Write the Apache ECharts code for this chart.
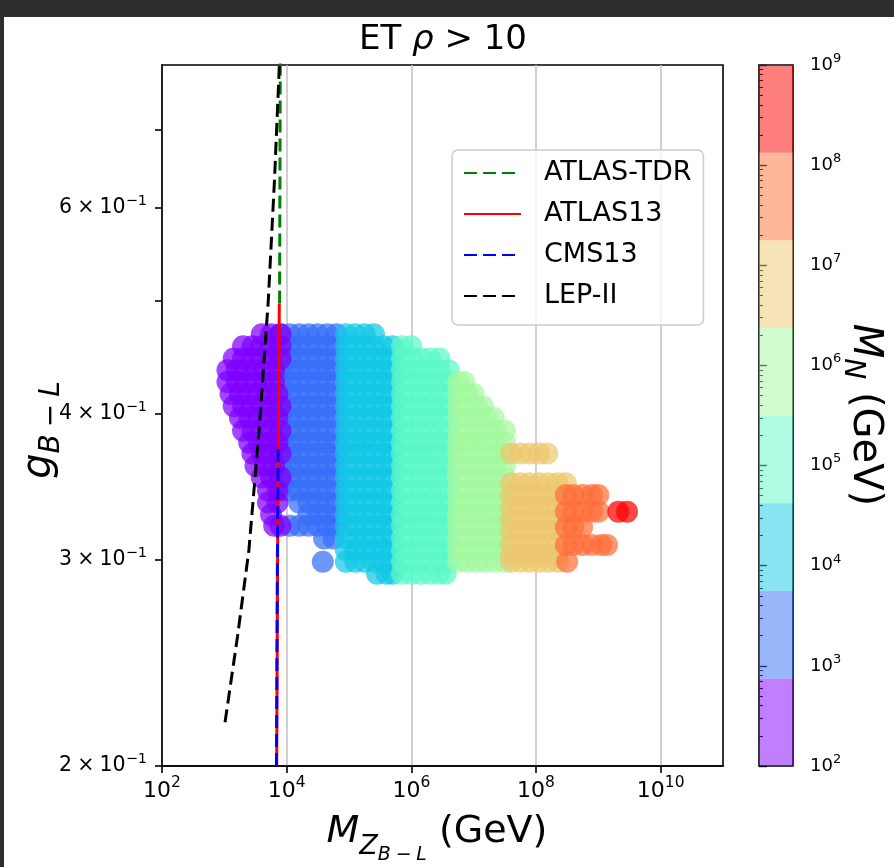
<!DOCTYPE html>
<html><head><meta charset="utf-8">
<script src="https://cdn.jsdelivr.net/npm/echarts@6/dist/echarts.min.js"></script>
<style>
html,body{margin:0;padding:0;background:#2d2d2d;overflow:hidden;}
#panel{position:absolute;left:4px;top:17px;width:890px;height:850px;background:#fff;}
#chart{position:absolute;left:0;top:0;width:894px;height:867px;}
</style></head><body>
<div id="panel"></div><div id="chart"></div>
<script>
const FONT = '"DejaVu Sans", sans-serif';

// ---------- axis / colour-bar definitions ----------
const xTickExp = [2, 4, 6, 8, 10];                 // log10(M_Z / GeV) labelled ticks
const yTickValues = [0.2, 0.3, 0.4, 0.5, 0.6, 0.7]; // g_{B-L} ticks
const yLabelValues = [0.2, 0.3, 0.4, 0.6];          // g_{B-L} labelled ticks
const cbarTickExp = [2, 3, 4, 5, 6, 7, 8, 9];       // log10(M_N / GeV)
const mnBinEdgesExp = [2, 2.875, 3.75, 4.625, 5.5, 6.375, 7.25, 8.125, 9];
const mnBinColors = ['#8000ff', '#376ff9', '#12c7e6', '#5bf9c7', '#a4f99f', '#edc76f', '#ff6f39', '#ff0000'];

// ---------- scan points: each row = [g_{B-L}, log10(M_Z/GeV) ...], one array per M_N bin ----------
const scanBin1 = [ // 10^2 - 10^2.875
  [0.468, 3.6, 3.75, 3.9],
  [0.457, 3.3, 3.45, 3.6, 3.75, 3.9],
  [0.446, 3.15, 3.3, 3.45, 3.6, 3.75, 3.9],
  [0.436, 3.05, 3.2, 3.35, 3.5, 3.65, 3.8],
  [0.426, 3.05, 3.2, 3.35, 3.5, 3.65, 3.8],
  [0.416, 3.1, 3.25, 3.4, 3.55, 3.7, 3.85],
  [0.406, 3.15, 3.3, 3.45, 3.6, 3.75, 3.9],
  [0.397, 3.25, 3.4, 3.55, 3.7, 3.85],
  [0.387, 3.3, 3.45, 3.6, 3.75, 3.9],
  [0.378, 3.4, 3.55, 3.7, 3.85],
  [0.370, 3.45, 3.6, 3.75, 3.9],
  [0.361, 3.5, 3.65, 3.8],
  [0.353, 3.6, 3.75, 3.9],
  [0.344, 3.7, 3.85],
  [0.336, 3.7, 3.85],
  [0.328, 3.75],
  [0.321, 3.8, 3.9]
];
const scanBin2 = [ // 10^2.875 - 10^3.75
  [0.468, 3.9, 4.05, 4.2, 4.35, 4.5, 4.65, 4.8],
  [0.457, 3.9, 4.05, 4.2, 4.35, 4.5, 4.65, 4.8],
  [0.446, 3.9, 4.05, 4.2, 4.35, 4.5, 4.65, 4.8],
  [0.436, 3.9, 4.05, 4.2, 4.35, 4.5, 4.65, 4.8],
  [0.426, 3.9, 4.05, 4.2, 4.35, 4.5, 4.65, 4.8],
  [0.416, 3.9, 4.05, 4.2, 4.35, 4.5, 4.65, 4.8],
  [0.406, 3.9, 4.05, 4.2, 4.35, 4.5, 4.65, 4.8],
  [0.397, 3.9, 4.05, 4.2, 4.35, 4.5, 4.65, 4.8],
  [0.387, 3.9, 4.05, 4.2, 4.35, 4.5, 4.65, 4.8],
  [0.378, 3.9, 4.05, 4.2, 4.35, 4.5, 4.65, 4.8],
  [0.370, 3.9, 4.05, 4.2, 4.35, 4.5, 4.65, 4.8],
  [0.361, 3.9, 4.05, 4.2, 4.35, 4.5, 4.65, 4.8],
  [0.353, 3.9, 4.05, 4.2, 4.35, 4.5, 4.65, 4.8],
  [0.344, 3.9, 4.05, 4.2, 4.35, 4.5, 4.65, 4.8],
  [0.336, 4.2, 4.35, 4.5, 4.65, 4.8],
  [0.328, 4.35, 4.5, 4.65, 4.8],
  [0.321, 4.05, 4.2, 4.35, 4.5, 4.65, 4.8],
  [0.313, 4.6, 4.75],
  [0.299, 4.58]
];
const scanBin3 = [ // 10^3.75 - 10^4.625
  [0.468, 4.95, 5.1, 5.25, 5.4],
  [0.457, 4.95, 5.1, 5.25, 5.4, 5.55, 5.7],
  [0.446, 4.95, 5.1, 5.25, 5.4, 5.55, 5.7],
  [0.436, 4.95, 5.1, 5.25, 5.4, 5.55, 5.7],
  [0.426, 4.95, 5.1, 5.25, 5.4, 5.55, 5.7],
  [0.416, 4.95, 5.1, 5.25, 5.4, 5.55, 5.7],
  [0.406, 4.95, 5.1, 5.25, 5.4, 5.55, 5.7],
  [0.397, 4.95, 5.1, 5.25, 5.4, 5.55, 5.7],
  [0.387, 4.95, 5.1, 5.25, 5.4, 5.55, 5.7],
  [0.378, 4.95, 5.1, 5.25, 5.4, 5.55, 5.7],
  [0.370, 4.95, 5.1, 5.25, 5.4, 5.55, 5.7],
  [0.361, 4.95, 5.1, 5.25, 5.4, 5.55, 5.7],
  [0.353, 4.95, 5.1, 5.25, 5.4, 5.55, 5.7],
  [0.344, 4.95, 5.1, 5.25, 5.4, 5.55, 5.7],
  [0.336, 4.95, 5.1, 5.25, 5.4, 5.55, 5.7],
  [0.328, 4.95, 5.1, 5.25, 5.4, 5.55, 5.7],
  [0.321, 4.95, 5.1, 5.25, 5.4, 5.55, 5.7],
  [0.313, 4.95, 5.1, 5.25, 5.4, 5.55, 5.7],
  [0.306, 4.95, 5.1, 5.25, 5.4, 5.55, 5.7],
  [0.299, 4.95, 5.1, 5.25, 5.4, 5.55, 5.7],
  [0.292, 5.45, 5.6, 5.7]
];
const scanBin4 = [ // 10^4.625 - 10^5.5
  [0.457, 5.85, 6.0],
  [0.446, 5.85, 6.0, 6.15, 6.3, 6.45],
  [0.436, 5.85, 6.0, 6.15, 6.3, 6.45, 6.6],
  [0.426, 5.85, 6.0, 6.15, 6.3, 6.45, 6.6],
  [0.416, 5.85, 6.0, 6.15, 6.3, 6.45, 6.6],
  [0.406, 5.85, 6.0, 6.15, 6.3, 6.45, 6.6],
  [0.397, 5.85, 6.0, 6.15, 6.3, 6.45, 6.6],
  [0.387, 5.85, 6.0, 6.15, 6.3, 6.45, 6.6],
  [0.378, 5.85, 6.0, 6.15, 6.3, 6.45, 6.6],
  [0.370, 5.85, 6.0, 6.15, 6.3, 6.45, 6.6],
  [0.361, 5.85, 6.0, 6.15, 6.3, 6.45, 6.6],
  [0.353, 5.85, 6.0, 6.15, 6.3, 6.45, 6.6],
  [0.344, 5.85, 6.0, 6.15, 6.3, 6.45, 6.6],
  [0.336, 5.85, 6.0, 6.15, 6.3, 6.45, 6.6],
  [0.328, 5.85, 6.0, 6.15, 6.3, 6.45, 6.6],
  [0.321, 5.85, 6.0, 6.15, 6.3, 6.45, 6.6],
  [0.313, 5.85, 6.0, 6.15, 6.3, 6.45, 6.6],
  [0.306, 5.85, 6.0, 6.15, 6.3, 6.45, 6.6],
  [0.299, 5.85, 6.0, 6.15, 6.3, 6.45, 6.6],
  [0.292, 5.85, 6.0, 6.15, 6.3, 6.45, 6.55]
];
const scanBin5 = [ // 10^5.5 - 10^6.375
  [0.426, 6.75, 6.85],
  [0.416, 6.75, 6.9, 7.0],
  [0.406, 6.75, 6.9, 7.05, 7.15],
  [0.397, 6.75, 6.9, 7.05, 7.2, 7.32],
  [0.387, 6.75, 6.9, 7.05, 7.2, 7.35, 7.5],
  [0.378, 6.75, 6.9, 7.05, 7.2, 7.35, 7.5],
  [0.370, 6.75, 6.9, 7.05, 7.2, 7.35, 7.5],
  [0.361, 6.75, 6.9, 7.05, 7.2, 7.35, 7.5],
  [0.353, 6.75, 6.9, 7.05, 7.2, 7.35, 7.5],
  [0.344, 6.75, 6.9, 7.05, 7.2, 7.35, 7.5],
  [0.336, 6.75, 6.9, 7.05, 7.2, 7.35, 7.5],
  [0.328, 6.75, 6.9, 7.05, 7.2, 7.35, 7.5],
  [0.321, 6.75, 6.9, 7.05, 7.2, 7.35, 7.5],
  [0.313, 6.75, 6.9, 7.05, 7.2, 7.35, 7.5],
  [0.306, 6.75, 6.9, 7.05, 7.2, 7.35, 7.5],
  [0.299, 6.75, 6.9, 7.05, 7.2, 7.35, 7.5]
];
const scanBin6 = [ // 10^6.375 - 10^7.25
  [0.370, 7.6, 7.75, 7.9, 8.05, 8.18],
  [0.349, 7.6, 7.75, 7.9, 8.05, 8.2, 8.35, 8.48],
  [0.341, 7.6, 7.75, 7.9, 8.05, 8.2, 8.35],
  [0.333, 7.6, 7.75, 7.9, 8.05, 8.2, 8.35],
  [0.325, 7.6, 7.75, 7.9, 8.05, 8.2, 8.35],
  [0.318, 7.6, 7.75, 7.9, 8.05, 8.2, 8.35],
  [0.310, 7.6, 7.75, 7.9, 8.05, 8.2, 8.35],
  [0.303, 7.6, 7.75, 7.9, 8.05, 8.2, 8.35],
  [0.299, 7.6, 7.75, 7.9, 8.05, 8.2, 8.35]
];
const scanBin7 = [ // 10^7.25 - 10^8.125
  [0.341, 8.48, 8.6, 8.75, 8.9, 9.0],
  [0.330, 8.48, 8.6, 8.75, 8.9, 9.0],
  [0.320, 8.48, 8.6, 8.74],
  [0.309, 8.48, 8.6, 8.75, 8.9, 9.05, 9.14],
  [0.299, 8.5]
];
const scanBin8 = [ // 10^8.125 - 10^9
  [0.330, 9.32, 9.46]
];

// ---------- exclusion curves: [M_Z (GeV), g_{B-L}] ----------
const atlasTDR = [[7700, 0.497], [7900, 0.8]];
const atlas13 = [[6920, 0.2], [7150, 0.3], [7350, 0.375], [7620, 0.497]];
const cms13 = [[6850, 0.2], [7100, 0.3], [7300, 0.375]];
const lep2 = [[1026, 0.218], [1626, 0.258], [2478, 0.306], [3665, 0.391], [5070, 0.5], [6380, 0.634], [7640, 0.795]];

// ---------- build ----------
function rowsToPoints(rows) {
  const pts = [];
  rows.forEach(r => { for (let i = 1; i < r.length; i++) pts.push([Math.pow(10, r[i]), r[0]]); });
  return pts;
}
const drawOrder = [[scanBin2, 1], [scanBin1, 0], [scanBin3, 2], [scanBin4, 3], [scanBin5, 4], [scanBin6, 5], [scanBin7, 6], [scanBin8, 7]];
const scatterSeries = drawOrder.map(([rows, bin]) => ({
  type: 'scatter', name: 'MN bin ' + (bin + 1), xAxisIndex: 0, yAxisIndex: 0,
  data: rowsToPoints(rows), symbol: 'circle', symbolSize: 22, silent: true,
  itemStyle: { color: mnBinColors[bin], opacity: 0.72, borderWidth: 0 }, z: 2
}));

const cbMinor = [];
for (let d = 2; d < 9; d++) for (let m = 2; m <= 9; m++) cbMinor.push(m * Math.pow(10, d));

function lineSeries(name, data, color, dashed) {
  return {
    type: 'line', name, data, xAxisIndex: 0, yAxisIndex: 0, symbol: 'none', showSymbol: false,
    silent: true, z: 3, clip: true,
    lineStyle: { color, width: 3, type: dashed ? [13, 6] : 'solid' },
    itemStyle: { color }
  };
}

const supRich = (base, sup, raise) => ({
  b: { fontSize: base, fontFamily: FONT, color: '#000', verticalAlign: 'middle' },
  s: { fontSize: sup, fontFamily: FONT, color: '#000', verticalAlign: 'middle', padding: [0, 0, raise, 0] }
});

const chart = echarts.init(document.getElementById('chart'), null, { renderer: 'canvas' });
chart.setOption({
  animation: false,
  backgroundColor: 'transparent',
  grid: [
    { left: 162, top: 65, width: 561, height: 701, show: true, borderColor: '#000', borderWidth: 1.6, backgroundColor: 'transparent', containLabel: false },
    { left: 759, top: 65, width: 34, height: 701, show: true, borderColor: '#000', borderWidth: 1.6, backgroundColor: 'transparent' },
    { left: 759, top: 65, width: 34, height: 701, show: false }
  ],
  xAxis: [
    {
      type: 'log', logBase: 10, gridIndex: 0, min: 1e2, max: 1e11,
      axisLine: { show: true, lineStyle: { color: '#000', width: 1.6 } },
      axisTick: { show: true, inside: false, length: 7, customValues: xTickExp.map(e => Math.pow(10, e)), lineStyle: { color: '#000', width: 1.6 } },
      minorTick: { show: false },
      axisLabel: {
        show: true, margin: 9, customValues: xTickExp.map(e => Math.pow(10, e)),
        formatter: v => '{b|10}{s|' + Math.round(Math.log10(v)) + '}',
        rich: supRich(22, 15.5, 16)
      },
      splitLine: { show: true, lineStyle: { color: '#c4c4c4', width: 1.6 } }
    },
    { type: 'value', gridIndex: 1, min: 0, max: 1, show: false },
    { type: 'value', gridIndex: 2, min: 0, max: 1, show: false }
  ],
  yAxis: [
    {
      type: 'log', logBase: 10, gridIndex: 0, min: 0.2, max: 0.795,
      axisLine: { show: true, lineStyle: { color: '#000', width: 1.6 } },
      axisTick: { show: true, length: 7, customValues: yTickValues, lineStyle: { color: '#000', width: 1.6 } },
      minorTick: { show: false },
      axisLabel: {
        show: true, margin: 15, customValues: yLabelValues,
        formatter: v => '{b|' + Math.round(v * 10) + '\u2005×\u200510}{s|−1}',
        rich: supRich(20.5, 14.5, 14)
      },
      splitLine: { show: false }
    },
    {
      type: 'log', logBase: 10, gridIndex: 1, position: 'right', min: 1e2, max: 1e9,
      axisLine: { show: false },
      axisTick: { show: true, length: 8, customValues: cbarTickExp.map(e => Math.pow(10, e)), lineStyle: { color: '#000', width: 1.4 } },
      minorTick: { show: false },
      axisLabel: {
        show: true, margin: 17, customValues: cbarTickExp.map(e => Math.pow(10, e)),
        formatter: v => '{b|10}{s|' + Math.round(Math.log10(v)) + '}',
        rich: supRich(18, 13, 13)
      },
      splitLine: { show: false }
    },
    {
      type: 'log', logBase: 10, gridIndex: 2, position: 'right', min: 1e2, max: 1e9,
      axisLine: { show: false },
      axisTick: { show: true, length: 4, customValues: cbMinor, lineStyle: { color: '#000', width: 1.1 } },
      minorTick: { show: false },
      axisLabel: { show: false },
      splitLine: { show: false }
    }
  ],
  legend: {
    orient: 'vertical', left: 452, top: 150,
    data: ['ATLAS-TDR', 'ATLAS13', 'CMS13', 'LEP-II'],
    itemWidth: 57, itemHeight: 14, itemGap: 11,
    padding: [8, 12, 14, 11],
    backgroundColor: 'rgba(255,255,255,0.8)', borderColor: '#cccccc', borderWidth: 1.5, borderRadius: 6,
    itemStyle: { color: 'rgba(0,0,0,0)', borderWidth: 0, opacity: 0 },
    textStyle: { fontSize: 27, fontFamily: FONT, color: '#000', lineHeight: 30, padding: [0, 0, 0, 18] },
    selectedMode: false
  },
  graphic: [
    {
      type: 'text', x: 443, y: 40, silent: true,
      style: {
        text: '{n|ET }{i|ρ}{n| > 10}', align: 'center', verticalAlign: 'middle',
        rich: {
          n: { fontSize: 34, fontFamily: FONT, fill: '#000', verticalAlign: 'middle' },
          i: { fontSize: 34, fontFamily: FONT, fontStyle: 'italic', fill: '#000', verticalAlign: 'middle' }
        }
      }
    },
    {
      type: 'text', x: 437, y: 832, silent: true,
      style: {
        text: '{m|M}{z|Z}{l|B\u2005−\u2005L}{n| (GeV)}', align: 'center', verticalAlign: 'middle',
        rich: {
          m: { fontSize: 38, fontFamily: FONT, fontStyle: 'italic', fill: '#000', verticalAlign: 'middle' },
          z: { fontSize: 27, fontFamily: FONT, fontStyle: 'italic', fill: '#000', verticalAlign: 'middle', padding: [30, 0, 0, 0] },
          l: { fontSize: 19, fontFamily: FONT, fontStyle: 'italic', fill: '#000', verticalAlign: 'middle', padding: [46, 0, 0, 0] },
          n: { fontSize: 38, fontFamily: FONT, fill: '#000', verticalAlign: 'middle' }
        }
      }
    },
    {
      type: 'text', x: 40, y: 430, rotation: Math.PI / 2, silent: true,
      style: {
        text: '{g|g}{s|B\u2005−\u2005L}', align: 'center', verticalAlign: 'middle',
        rich: {
          g: { fontSize: 40, fontFamily: FONT, fontStyle: 'italic', fill: '#000', verticalAlign: 'middle' },
          s: { fontSize: 28, fontFamily: FONT, fontStyle: 'italic', fill: '#000', verticalAlign: 'middle', padding: [24, 0, 0, 0] }
        }
      }
    },
    {
      type: 'text', x: 864, y: 415, rotation: -Math.PI / 2, silent: true,
      style: {
        text: '{m|M}{s|N}{n| (GeV)}', align: 'center', verticalAlign: 'middle',
        rich: {
          m: { fontSize: 40, fontFamily: FONT, fontStyle: 'italic', fill: '#000', verticalAlign: 'middle' },
          s: { fontSize: 28, fontFamily: FONT, fontStyle: 'italic', fill: '#000', verticalAlign: 'middle', padding: [24, 0, 0, 0] },
          n: { fontSize: 40, fontFamily: FONT, fill: '#000', verticalAlign: 'middle' }
        }
      }
    }
  ],
  series: [
    {
      type: 'custom', name: 'colorbar', xAxisIndex: 1, yAxisIndex: 1, silent: true,
      data: mnBinColors.map((c, i) => [Math.pow(10, mnBinEdgesExp[i]), Math.pow(10, mnBinEdgesExp[i + 1]), i]),
      encode: { x: 2, y: [0, 1] },
      renderItem: (params, api) => {
        const p0 = api.coord([0, api.value(0)]);
        const p1 = api.coord([1, api.value(1)]);
        return {
          type: 'rect',
          shape: { x: p0[0], y: p1[1], width: p1[0] - p0[0], height: p0[1] - p1[1] },
          style: { fill: mnBinColors[api.value(2)], opacity: 0.5 }
        };
      }
    },
    ...scatterSeries,
    lineSeries('ATLAS-TDR', atlasTDR, '#008000', true),
    lineSeries('ATLAS13', atlas13, '#ff0000', false),
    lineSeries('CMS13', cms13, '#0000ff', true),
    lineSeries('LEP-II', lep2, '#000000', true)
  ]
});
</script></body></html>
